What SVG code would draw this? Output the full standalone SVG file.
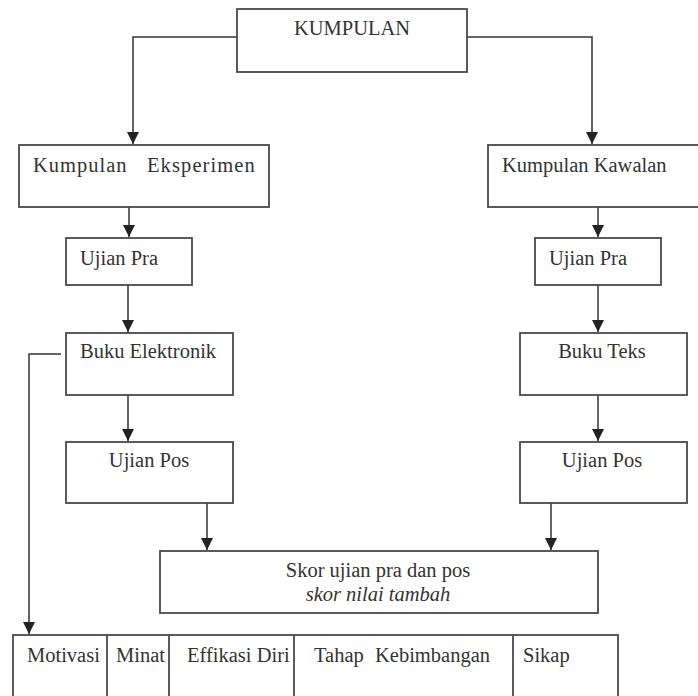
<svg xmlns="http://www.w3.org/2000/svg" width="698" height="696" viewBox="0 0 698 696">
<style>
.box{fill:#fff;stroke:#4a4a4a;stroke-width:1.8}
.ln{fill:none;stroke:#333;stroke-width:1.5}
.t{font-family:"Liberation Serif","Times New Roman",serif;font-size:20.5px;fill:#333}
.c{text-anchor:middle}
.i{font-style:italic}
</style>
<defs>
<marker id="ah" markerUnits="userSpaceOnUse" markerWidth="12" markerHeight="12" refX="12" refY="6" orient="auto">
<path d="M0,0 L12,6 L0,12 z" fill="#222"/>
</marker>
</defs>
<rect width="698" height="696" fill="#fff"/>
<g id="connectors">
<path class="ln" d="M237,37 H133 V144" marker-end="url(#ah)"/>
<path class="ln" d="M467,37 H592 V144" marker-end="url(#ah)"/>
<path class="ln" d="M129,207 V237" marker-end="url(#ah)"/>
<path class="ln" d="M598,207 V237" marker-end="url(#ah)"/>
<path class="ln" d="M128,285 V332" marker-end="url(#ah)"/>
<path class="ln" d="M598,285 V332" marker-end="url(#ah)"/>
<path class="ln" d="M128,395 V441" marker-end="url(#ah)"/>
<path class="ln" d="M598,395 V441" marker-end="url(#ah)"/>
<path class="ln" d="M207,503 V550" marker-end="url(#ah)"/>
<path class="ln" d="M551,503 V550" marker-end="url(#ah)"/>
<path class="ln" d="M61,354 H29 V634" marker-end="url(#ah)"/>
</g>
<g id="kumpulan">
<rect class="box" x="237" y="9" width="230" height="63"/>
<text class="t c" x="352" y="35">KUMPULAN</text>
</g>
<g id="kumpulan-eksperimen">
<rect class="box" x="19" y="145" width="250" height="62"/>
<text class="t" x="33" y="172" letter-spacing="1">Kumpulan</text>
<text class="t" x="147" y="172" letter-spacing="1.1">Eksperimen</text>
</g>
<g id="kumpulan-kawalan">
<rect class="box" x="488" y="145" width="214" height="62"/>
<text class="t" x="502" y="172">Kumpulan Kawalan</text>
</g>
<g id="ujian-pra-e">
<rect class="box" x="66" y="238" width="126" height="47"/>
<text class="t" x="80" y="265">Ujian Pra</text>
</g>
<g id="ujian-pra-k">
<rect class="box" x="535" y="238" width="126" height="47"/>
<text class="t" x="549" y="265">Ujian Pra</text>
</g>
<g id="buku-elektronik">
<rect class="box" x="66" y="333" width="167" height="62"/>
<text class="t" x="80" y="358">Buku Elektronik</text>
</g>
<g id="buku-teks">
<rect class="box" x="520" y="333" width="167" height="62"/>
<text class="t c" x="602" y="358">Buku Teks</text>
</g>
<g id="ujian-pos-e">
<rect class="box" x="66" y="442" width="167" height="61"/>
<text class="t c" x="149" y="467">Ujian Pos</text>
</g>
<g id="ujian-pos-k">
<rect class="box" x="520" y="442" width="167" height="61"/>
<text class="t c" x="602" y="467">Ujian Pos</text>
</g>
<g id="skor">
<rect class="box" x="160" y="551" width="438" height="62"/>
<text class="t c" x="378" y="577">Skor ujian pra dan pos</text>
<text class="t c i" x="378" y="601">skor nilai tambah</text>
</g>
<g id="pemboleh-ubah">
<rect class="box" x="13" y="635" width="605" height="70"/>
<line class="box" x1="107" y1="635" x2="107" y2="705"/>
<line class="box" x1="169" y1="635" x2="169" y2="705"/>
<line class="box" x1="294" y1="635" x2="294" y2="705"/>
<line class="box" x1="513" y1="635" x2="513" y2="705"/>
<text class="t" x="27" y="662">Motivasi</text>
<text class="t" x="116" y="662">Minat</text>
<text class="t" x="187" y="662">Effikasi Diri</text>
<text class="t" x="314" y="662">Tahap</text>
<text class="t" x="375" y="662">Kebimbangan</text>
<text class="t" x="523" y="662">Sikap</text>
</g>
</svg>
